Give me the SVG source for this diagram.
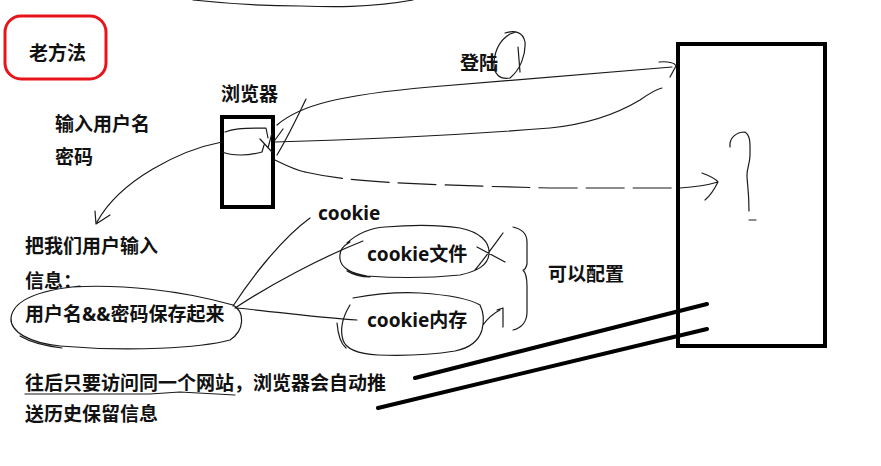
<svg xmlns="http://www.w3.org/2000/svg" width="881" height="466" viewBox="0 0 881 466">
<style>
  .t { font-family: "Noto Sans", "Noto Sans CJK SC", sans-serif; font-weight: bold; font-size: 19px; fill: #111; }
  .thin { fill: none; stroke: #1a1a1a; stroke-width: 1.2; stroke-linecap: round; stroke-linejoin: round; }
  .box { fill: none; stroke: #000; stroke-width: 4; }
  .thick { fill: none; stroke: #000; stroke-width: 4; stroke-linecap: round; }
  .dash { stroke-dasharray: 38 9; }
</style>
<rect width="881" height="466" fill="#fff"/>

<g id="title">
  <rect x="5" y="16" width="101" height="63" rx="16" ry="16" fill="none" stroke="#e8141c" stroke-width="3"/>
  <text class="t" x="29" y="60">老方法</text>
</g>

<g id="browser">
  <rect class="box" x="222" y="117" width="51" height="90"/>
  <text class="t" x="221" y="101">浏览器</text>
  <path class="thin" d="M225 132 C232 129 240 128 266 128 L268 138 M222 152 C232 156 248 156 262 152 L264 145 M260 139 L272 152 M272 133 L268 148 M283 129 L275 140 M306 99 C296 120 286 140 277 155"/>
</g>

<g id="server">
  <rect class="box" x="678" y="44" width="147" height="302"/>
  <path class="thin" d="M730 147 C729 138 736 132 745 132 C751 136 750 145 750 155 C750 163 747 168 747 175 C747 183 749 190 749 211 M749 220 L756 220"/>
</g>

<g id="login-label">
  <text class="t" x="460" y="70">登陆</text>
  <path class="thin" d="M505 33 C515 30 523 32 525 42 C526 55 520 70 510 78 C500 80 493 74 494 62 C495 50 500 40 510 34 L516 32 M518 47 L520 72"/>
</g>

<g id="input-note">
  <text class="t" x="55" y="131">输入用户名</text>
  <text class="t" x="55" y="164">密码</text>
</g>

<g id="save-note">
  <text class="t" x="25" y="253">把我们用户输入</text>
  <text class="t" x="25" y="288">信息：</text>
  <text class="t" x="25" y="321">用户名&amp;&amp;密码保存起来</text>
  <path class="thin" d="M72 287 C120 284 180 290 233 305 C245 312 245 330 230 340 C200 348 130 352 60 346 C30 343 10 332 11 318 C13 300 40 290 80 286 M20 336 C30 342 45 346 62 348"/>
</g>

<g id="cookie-label">
  <text class="t" x="318" y="220">cookie</text>
</g>

<g id="cookie-file">
  <text class="t" x="367" y="261">cookie文件</text>
  <path class="thin" d="M347 243 C358 233 370 228 385 227 C410 225 440 225 460 228 C480 232 490 242 489 254 C488 265 478 271 460 275 C430 278 395 278 367 276 C352 274 341 268 340 259 C339 250 343 246 350 242 M347 271 C355 276 362 277 370 277 M477 247 L505 262 M475 270 C485 258 495 244 503 233"/>
</g>

<g id="cookie-memory">
  <text class="t" x="367" y="327">cookie内存</text>
  <path class="thin" d="M353 298 C375 294 400 292 420 293 C450 295 470 299 480 305 C484 313 484 322 482 330 C479 340 470 348 455 351 C430 355 405 356 378 355 C360 354 346 350 343 340 C340 330 342 318 350 305 M337 323 C338 335 340 343 346 348 M483 325 C488 318 494 313 500 310 M497 310 L503 308 L503 327"/>
</g>

<g id="brace">
  <path class="thin" d="M513 227 C522 229 527 234 527 242 L527 264 C526 268 524 270 523 270 C526 273 527 278 527 286 L527 312 C527 322 521 328 513 330"/>
</g>

<g id="config-label">
  <text class="t" x="548" y="281">可以配置</text>
</g>

<g id="footer-note">
  <text class="t" x="25" y="390">往后只要访问同一个网站，浏览器会自动推</text>
  <text class="t" x="25" y="421">送历史保留信息</text>
  <path class="thin" d="M25 394 L150 394 L180 392 L235 395"/>
</g>

<g id="connectors">
  <path class="thin" d="M193 0 C230 4 270 6 300 6 C330 7 370 8 413 0"/>
  <path class="thin" d="M277 125 C300 105 340 95 430 87 C520 80 600 73 672 67"/>
  <path class="thin" d="M659 62 C668 61 675 63 676 66 L670 77"/>
  <path class="thin" d="M275 142 C350 140 450 136 550 128 C590 124 620 112 640 100 C650 93 656 89 662 88"/>
  <path class="thin" d="M275 160 C285 165 295 170 305 172"/>
  <path class="thin dash" d="M305 172 C340 180 380 184 550 188 L680 188"/>
  <path class="thin" d="M680 188 C695 187 708 185 718 182 M702 173 C710 176 716 179 718 182 C714 190 710 196 705 200"/>
  <path class="thin" d="M222 142 C180 150 120 180 97 222 M95 211 L96 224 L110 215"/>
  <path class="thin" d="M233 306 C250 280 280 240 310 218"/>
  <path class="thin" d="M235 308 C270 285 320 258 363 241"/>
  <path class="thin" d="M236 308 C280 312 320 318 357 320"/>
  <path class="thick" d="M415 378 L707 304"/>
  <path class="thick" d="M378 408 L707 329"/>
</g>
</svg>
